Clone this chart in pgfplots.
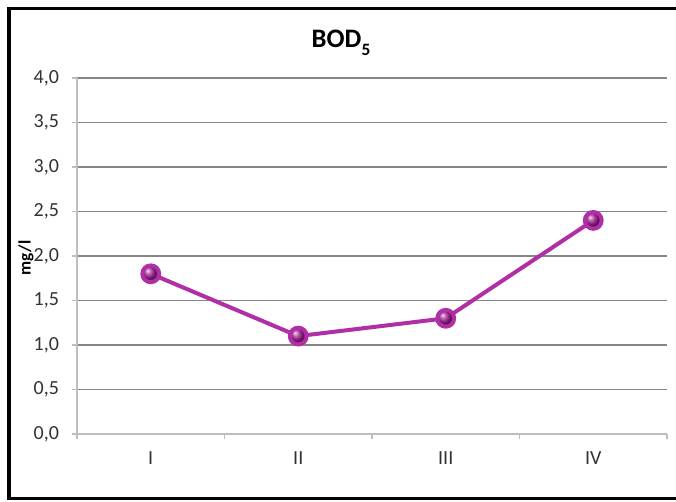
\documentclass[border=0pt]{standalone}
\usepackage{pgfplots}
\pgfplotsset{compat=1.18}
\usepackage{fontspec}
\setmainfont{Carlito}
\definecolor{linec}{RGB}{176,46,166}
\definecolor{ballc}{RGB}{165,30,150}
\definecolor{gridc}{RGB}{134,134,134}
\definecolor{axc}{RGB}{190,190,190}
\definecolor{txtc}{RGB}{50,50,50}
\begin{document}
\begin{tikzpicture}[x=0.75pt,y=0.75pt]
\useasboundingbox (0,0) rectangle (676,502);
\begin{scope}
\clip (0,0) rectangle (676,502);
\draw[line width=2.4pt,black] (9,3.5) rectangle (700,493.5);
\end{scope}
\node[font=\bfseries\fontsize{20}{24}\selectfont] at (341,459) {BOD\raisebox{-0.28em}{\fontsize{13}{15}\selectfont 5}};
\node[rotate=90, font=\bfseries\fontsize{13}{15}\selectfont] at (26,244) {mg/l};
\begin{axis}[
  at={(77pt*0.75,68pt*0.75)}, anchor=south west,
  scale only axis, width=442.5pt, height=267pt,
  xmin=0.5, xmax=4.5, ymin=0, ymax=4,
  xtick={1,2,3,4}, xticklabels={I,II,III,IV},
  major x tick style={draw=none},
  minor xtick={0.5,1.5,2.5,3.5,4.5},
  minor x tick style={axc, line width=0.8pt},
  minor tick length=4pt,
  ytick={0,0.5,...,4},
  yticklabel={\pgfmathprintnumber[fixed,fixed zerofill,precision=1,use comma]{\tick}},
  /pgf/number format/assume math mode=true,
  tick align=outside,
  major tick length=4pt,
  ymajorgrids, grid style={gridc, line width=0.8pt},
  major y tick style={axc, line width=0.8pt},
  axis x line*=bottom, axis y line*=left,
  axis line style={axc, line width=0.8pt, -},
  tick label style={font=\fontsize{15}{18}\selectfont, text=txtc},
  xticklabel style={yshift=-6pt},
  yticklabel style={xshift=-6pt},
  clip=false,
]
\addplot[linec, line width=3pt, mark=ball, mark size=6.3pt, mark options={ball color=ballc}] coordinates {(1,1.8) (2,1.1) (3,1.3) (4,2.4)};
\end{axis}
\end{tikzpicture}
\end{document}
